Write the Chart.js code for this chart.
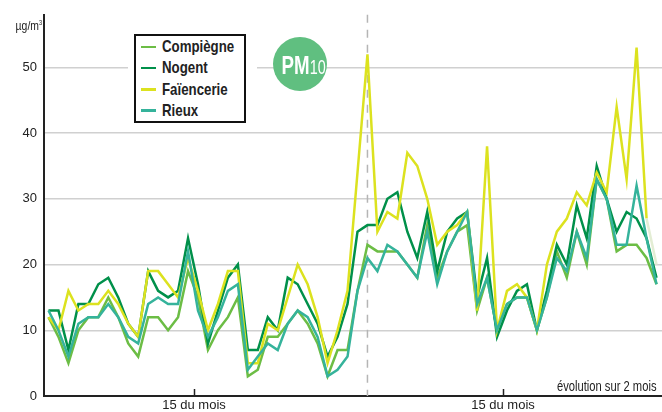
<!DOCTYPE html>
<html>
<head>
<meta charset="utf-8">
<script src="https://cdn.jsdelivr.net/npm/chart.js@4.4.1/dist/chart.umd.min.js"></script>
<style>
  body { margin: 0; background: #fff; }
  #wrap { position: relative; width: 662px; height: 412px; font-family: "Liberation Sans", Arial, sans-serif; color: #222; }
  canvas { position: absolute; left: 0; top: 0; }
  .narrow { display: inline-block; transform: scaleX(0.8); white-space: nowrap; }
  .unit { position: absolute; right: 620px; top: 18px; font-size: 13px; }
  .unit .narrow { transform-origin: right center; }
  .unit sup { font-size: 7px; vertical-align: 5px; }
  .note { position: absolute; right: 5px; top: 379px; font-size: 14px; line-height: 15px; }
  .note .narrow { transform-origin: right center; }
  .legend-bg { position: absolute; left: 128px; top: 28px; width: 129px; height: 101px; background: #fff; }
  .legend { position: absolute; left: 134px; top: 34px; width: 108px; height: 85px; border: 2px solid #111; background: #fff; }
  .legend div { position: relative; height: 21.3px; line-height: 21.3px; padding-left: 26px; font-weight: bold; font-size: 17px; }
  .legend .narrow { transform: scaleX(0.78); transform-origin: left center; }
  .legend span { position: absolute; left: 5px; top: 9.5px; width: 15px; height: 2.5px; }
  .badge { position: absolute; left: 273px; top: 37px; width: 54px; height: 54px; border-radius: 50%; background: #60bf80; color: #fff; text-align: center; line-height: 56px; }
  .badge .narrow { transform: scaleX(0.72); }
  .badge b { font-size: 26px; }
  .badge i { font-style: normal; font-size: 20px; }
</style>
</head>
<body>
<div id="wrap">
  <canvas id="chart-0" width="662" height="412"></canvas>
  <div class="unit"><span class="narrow">µg/m<sup>3</sup></span></div>
  <div class="note"><span class="narrow">évolution sur 2 mois</span></div>
  <div class="legend-bg"></div>
  <div class="legend" id="legend"></div>
  <div class="badge"><span class="narrow"><b>PM</b><i>10</i></span></div>
</div>
<script>
// valeurs journalières PM10 (µg/m3), 62 jours
const compiegne = [12, 9, 5, 10, 12, 12, 15, 12, 8, 6, 12, 12, 10, 12, 19, 15, 7, 10, 12, 15, 3, 4, 9, 9, 11, 13, 11, 8, 3, 7, 7, 16,
  23, 22, 22, 22, 20, 18, 26, 18, 22, 25, 26, 13, 18, 10, 14, 15, 15, 10, 15, 22, 18, 25, 20, 33, 30, 22, 23, 23, 21, 17];
const nogent = [13, 13, 7, 14, 14, 17, 18, 15, 11, 9, 19, 16, 15, 16, 24, 17, 8, 13, 18, 20, 7, 7, 12, 10, 18, 17, 14, 11, 6, 9, 14, 25,
  26, 26, 30, 31, 25, 21, 28, 19, 25, 27, 28, 15, 21, 9, 13, 16, 17, 10, 16, 23, 20, 29, 24, 35, 30, 25, 28, 27, 24, 18];
const faiencerie = [12, 10, 16, 13, 14, 14, 16, 14, 11, 9, 19, 19, 17, 15, 21, 16, 10, 14, 19, 19, 5, 5, 11, 10, 15, 20, 17, 12, 5, 10, 16, 34,
  52, 25, 28, 27, 37, 35, 30, 23, 25, 26, 28, 13, 38, 10, 16, 17, 15, 10, 20, 25, 27, 31, 29, 34, 31, 44, 33, 53, 27, 20];
const rieux = [13, 10, 6, 11, 12, 12, 14, 12, 9, 8, 14, 15, 14, 14, 22, 13, 9, 12, 16, 17, 4, 6, 8, 7, 11, 13, 12, 9, 3, 4, 6, 16,
  21, 19, 23, 22, 20, 18, 25, 17, 22, 25, 28, 14, 18, 10, 14, 15, 15, 10, 15, 21, 19, 25, 21, 33, 30, 23, 23, 32, 24, 17];

const yTicks = [0, 10, 20, 30, 40, 50];
const xTickPos = [14.6, 45.6];
const xTickLabels = ["15 du mois", "15 du mois"];
const monthBreak = 32;       // changement de mois (ligne pointillée)
const provisoireFrom = 60;   // dernier segment Faïencerie non validé

const series = [
  { label: "Compiègne", data: compiegne, color: "#6cbd45", order: 3 },
  { label: "Nogent", data: nogent, color: "#00904a", order: 2 },
  { label: "Faïencerie", data: faiencerie, color: "#dce21f", order: 1 },
  { label: "Rieux", data: rieux, color: "#35b39b", order: 0 }
];

const legend = document.getElementById("legend");
series.forEach(s => {
  const row = document.createElement("div");
  row.innerHTML = '<span style="background:' + s.color + '"></span><em class="narrow" style="font-style:normal">' + s.label + '</em>';
  legend.appendChild(row);
});

const tickFont = { family: "'Liberation Sans', Arial, sans-serif", size: 13 };

const extras = {
  id: "extras",
  beforeDatasetsDraw(chart) {
    const ctx = chart.ctx, x = chart.scales.x, a = chart.chartArea;
    const px = x.getPixelForValue(monthBreak);
    ctx.save();
    ctx.strokeStyle = "#b5b5b5";
    ctx.lineWidth = 1.5;
    ctx.setLineDash([8, 7]);
    ctx.beginPath();
    ctx.moveTo(px, a.top);
    ctx.lineTo(px, a.bottom);
    ctx.stroke();
    ctx.restore();
  },
  afterDraw(chart) {
    const ctx = chart.ctx, x = chart.scales.x, a = chart.chartArea;
    ctx.save();
    ctx.strokeStyle = "#222";
    ctx.lineWidth = 1.5;
    xTickPos.forEach(v => {
      const px = Math.round(x.getPixelForValue(v)) + 0.5;
      ctx.beginPath();
      ctx.moveTo(px, a.bottom - 7);
      ctx.lineTo(px, a.bottom);
      ctx.stroke();
    });
    ctx.restore();
  }
};

new Chart(document.getElementById("chart-0"), {
  type: "line",
  data: {
    datasets: series.map(s => ({
      label: s.label,
      data: s.data.map((v, i) => ({ x: i, y: v })),
      borderColor: s.color,
      borderWidth: 2.5,
      pointRadius: 0,
      tension: 0,
      order: s.order,
      segment: s.data === faiencerie ? {
        borderColor: c => c.p0DataIndex >= provisoireFrom ? "#e3edd4" : undefined
      } : undefined
    }))
  },
  plugins: [extras],
  options: {
    responsive: false,
    animation: false,
    layout: { padding: { top: 12, right: 0, left: 0, bottom: 0 } },
    plugins: { legend: { display: false }, tooltip: { enabled: false } },
    scales: {
      x: {
        type: "linear",
        min: -0.45,
        max: 61.55,
        afterBuildTicks: scale => { scale.ticks = xTickPos.map(v => ({ value: v })); },
        afterFit: scale => { scale.height = 16; },
        ticks: {
          callback: (v, i) => xTickLabels[i],
          font: tickFont,
          color: "#222",
          padding: 2,
          maxRotation: 0,
          autoSkip: false
        },
        grid: { drawOnChartArea: false, drawTicks: false },
        border: { color: "#222", width: 2 }
      },
      y: {
        min: 0,
        max: 58,
        afterBuildTicks: scale => { scale.ticks = yTicks.map(v => ({ value: v })); },
        afterFit: scale => { scale.width = 44; },
        ticks: {
          font: tickFont,
          color: "#222",
          padding: 7
        },
        grid: {
          drawTicks: false,
          color: c => c.tick.value === 0 ? "rgba(0,0,0,0)" : "#d0d0d0",
          lineWidth: 1.5
        },
        border: { color: "#222", width: 2 }
      }
    }
  }
});
</script>
</body>
</html>
